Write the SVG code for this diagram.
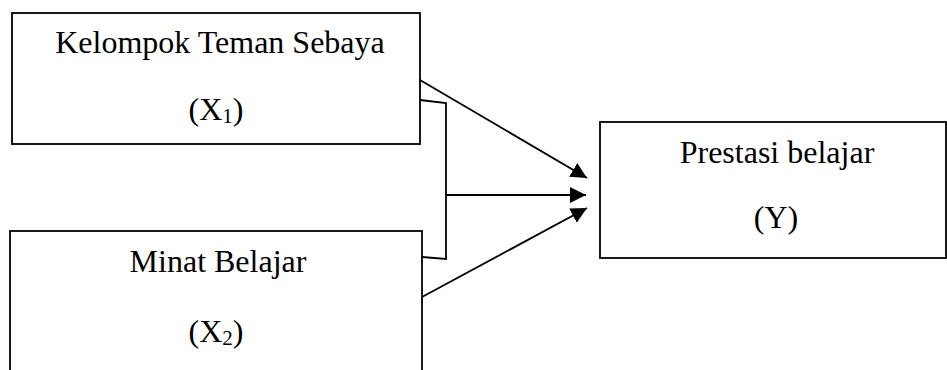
<svg xmlns="http://www.w3.org/2000/svg" width="947" height="370" viewBox="0 0 947 370">
<style>
.box{fill:#fff;stroke:#000;stroke-width:1.8}
.t{font-family:"Liberation Serif","Times New Roman",serif;font-size:32px;fill:#000;text-anchor:middle}
.sub{font-size:21px}
.c{fill:none;stroke:#000;stroke-width:1.8}
</style>
<defs>
<marker id="ah" markerUnits="userSpaceOnUse" markerWidth="18" markerHeight="18" refX="16" refY="8" orient="auto">
<path d="M0,0 L16,8 L0,16 Z" fill="#000"/>
</marker>
</defs>
<g id="x1">
<rect class="box" x="12" y="13" width="408" height="131"/>
<text class="t" x="220" y="53">Kelompok Teman Sebaya</text>
<text class="t" x="216" y="120">(X<tspan class="sub" dy="3">1</tspan><tspan dy="-3">)</tspan></text>
</g>
<g id="x2">
<rect class="box" x="10" y="231" width="412" height="160"/>
<text class="t" x="218" y="272">Minat Belajar</text>
<text class="t" x="216" y="342">(X<tspan class="sub" dy="3">2</tspan><tspan dy="-3">)</tspan></text>
</g>
<g id="y">
<rect class="box" x="600" y="122" width="346" height="136"/>
<text class="t" x="777" y="163">Prestasi belajar</text>
<text class="t" x="776" y="228">(Y)</text>
</g>
<g id="connectors">
<line class="c" x1="420" y1="80" x2="587" y2="178" marker-end="url(#ah)"/>
<polyline class="c" points="420,100 446,103 446,259 422,257"/>
<line class="c" x1="446" y1="195" x2="586" y2="195" marker-end="url(#ah)"/>
<line class="c" x1="422" y1="297" x2="587" y2="208" marker-end="url(#ah)"/>
</g>
</svg>
